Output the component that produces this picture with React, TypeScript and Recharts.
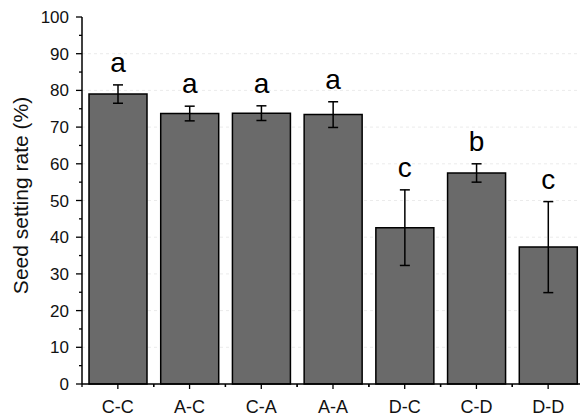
import { ComposedChart, Bar, XAxis, YAxis, CartesianGrid, ErrorBar, LabelList } from 'recharts';

const categories = ["C-C", "A-C", "C-A", "A-A", "D-C", "C-D", "D-D"];
const means = [79.0, 73.7, 73.8, 73.4, 42.6, 57.5, 37.3];
const errors = [2.5, 2.0, 2.0, 3.5, 10.3, 2.5, 12.4];
const letters = ["a", "a", "a", "a", "c", "b", "c"];
const yTicks = [0, 5, 10, 15, 20, 25, 30, 35, 40, 45, 50, 55, 60, 65, 70, 75, 80, 85, 90, 95, 100];
const gridValues = [10, 20, 30, 40, 50, 60, 70, 80, 90];

const data = categories.map((name, i) => ({
  name,
  mean: means[i],
  err: errors[i],
  letter: letters[i],
}));

const FONT = '"Liberation Sans", Arial, sans-serif';
const W = 600;
const H = 417;
const MARGIN = { top: 17, right: 16, left: 0, bottom: 0 };
const YAXIS_W = 82;
const BAND = (W - MARGIN.left - MARGIN.right - YAXIS_W) / categories.length;

const YTick = (props: any) => {
  const { x, y, payload } = props;
  const major = payload.value % 10 === 0;
  return (
    <g>
      <line x1={x + (major ? 7 : 10)} x2={x + 13} y1={y} y2={y} stroke="#000" strokeWidth={1.3} />
      {major && (
        <text x={x} y={y + 6} textAnchor="end" fontSize={17} fontFamily={FONT} fill="#111">
          {payload.value}
        </text>
      )}
    </g>
  );
};

const XTick = (props: any) => {
  const { x, y, payload } = props;
  const axisY = y - 16;
  return (
    <g>
      <line x1={x} x2={x} y1={axisY} y2={axisY + 5} stroke="#000" strokeWidth={1.3} />
      <line x1={x - BAND / 2} x2={x - BAND / 2} y1={axisY} y2={axisY + 3} stroke="#000" strokeWidth={1.3} />
      <line x1={x + BAND / 2} x2={x + BAND / 2} y1={axisY} y2={axisY + 3} stroke="#000" strokeWidth={1.3} />
      <text x={x} y={y + 13} textAnchor="middle" fontSize={18} fontFamily={FONT} fill="#111">
        {payload.value}
      </text>
    </g>
  );
};

const YLabel = (props: any) => {
  const { viewBox } = props;
  const cy = viewBox.y + viewBox.height / 2 - 5;
  const cx = 20;
  return (
    <text
      x={cx}
      y={cy}
      transform={`rotate(-90, ${cx}, ${cy})`}
      textAnchor="middle"
      dominantBaseline="central"
      fontSize={21}
      fontFamily={FONT}
      fill="#111"
    >
      Seed setting rate (%)
    </text>
  );
};

const Letter = (props: any) => {
  const { x, y, width, height, index } = props;
  const d = data[index];
  const pxPerUnit = height / d.mean;
  const errTop = y - d.err * pxPerUnit;
  return (
    <text x={x + width / 2} y={errTop - 13} textAnchor="middle" fontSize={28} fontFamily={FONT} fill="#000">
      {d.letter}
    </text>
  );
};

export default function App() {
  return (
    <div style={{ position: 'fixed', left: 0, top: 0, width: 580, height: 417, overflow: 'hidden', background: '#fff' }}>
      <ComposedChart width={W} height={H} data={data} margin={MARGIN}>
        <CartesianGrid vertical={false} horizontalValues={gridValues} stroke="#ebebeb" strokeDasharray="3 3" />
        <XAxis
          dataKey="name"
          height={33}
          tickLine={false}
          tickSize={5}
          tickMargin={11}
          axisLine={{ stroke: '#000', strokeWidth: 1.5 }}
          tick={<XTick />}
          interval={0}
        />
        <YAxis
          width={YAXIS_W}
          domain={[0, 100]}
          ticks={yTicks}
          interval={0}
          tickLine={false}
          tickSize={6}
          tickMargin={7}
          axisLine={{ stroke: '#000', strokeWidth: 1.5 }}
          tick={<YTick />}
          label={<YLabel />}
        />
        <Bar dataKey="mean" fill="#6a6a6a" stroke="#000" strokeWidth={1.5} barSize={58} isAnimationActive={false}>
          <ErrorBar dataKey="err" width={5} stroke="#000" strokeWidth={1.5} direction="y" />
          <LabelList dataKey="letter" content={<Letter />} />
        </Bar>
      </ComposedChart>
    </div>
  );
}
